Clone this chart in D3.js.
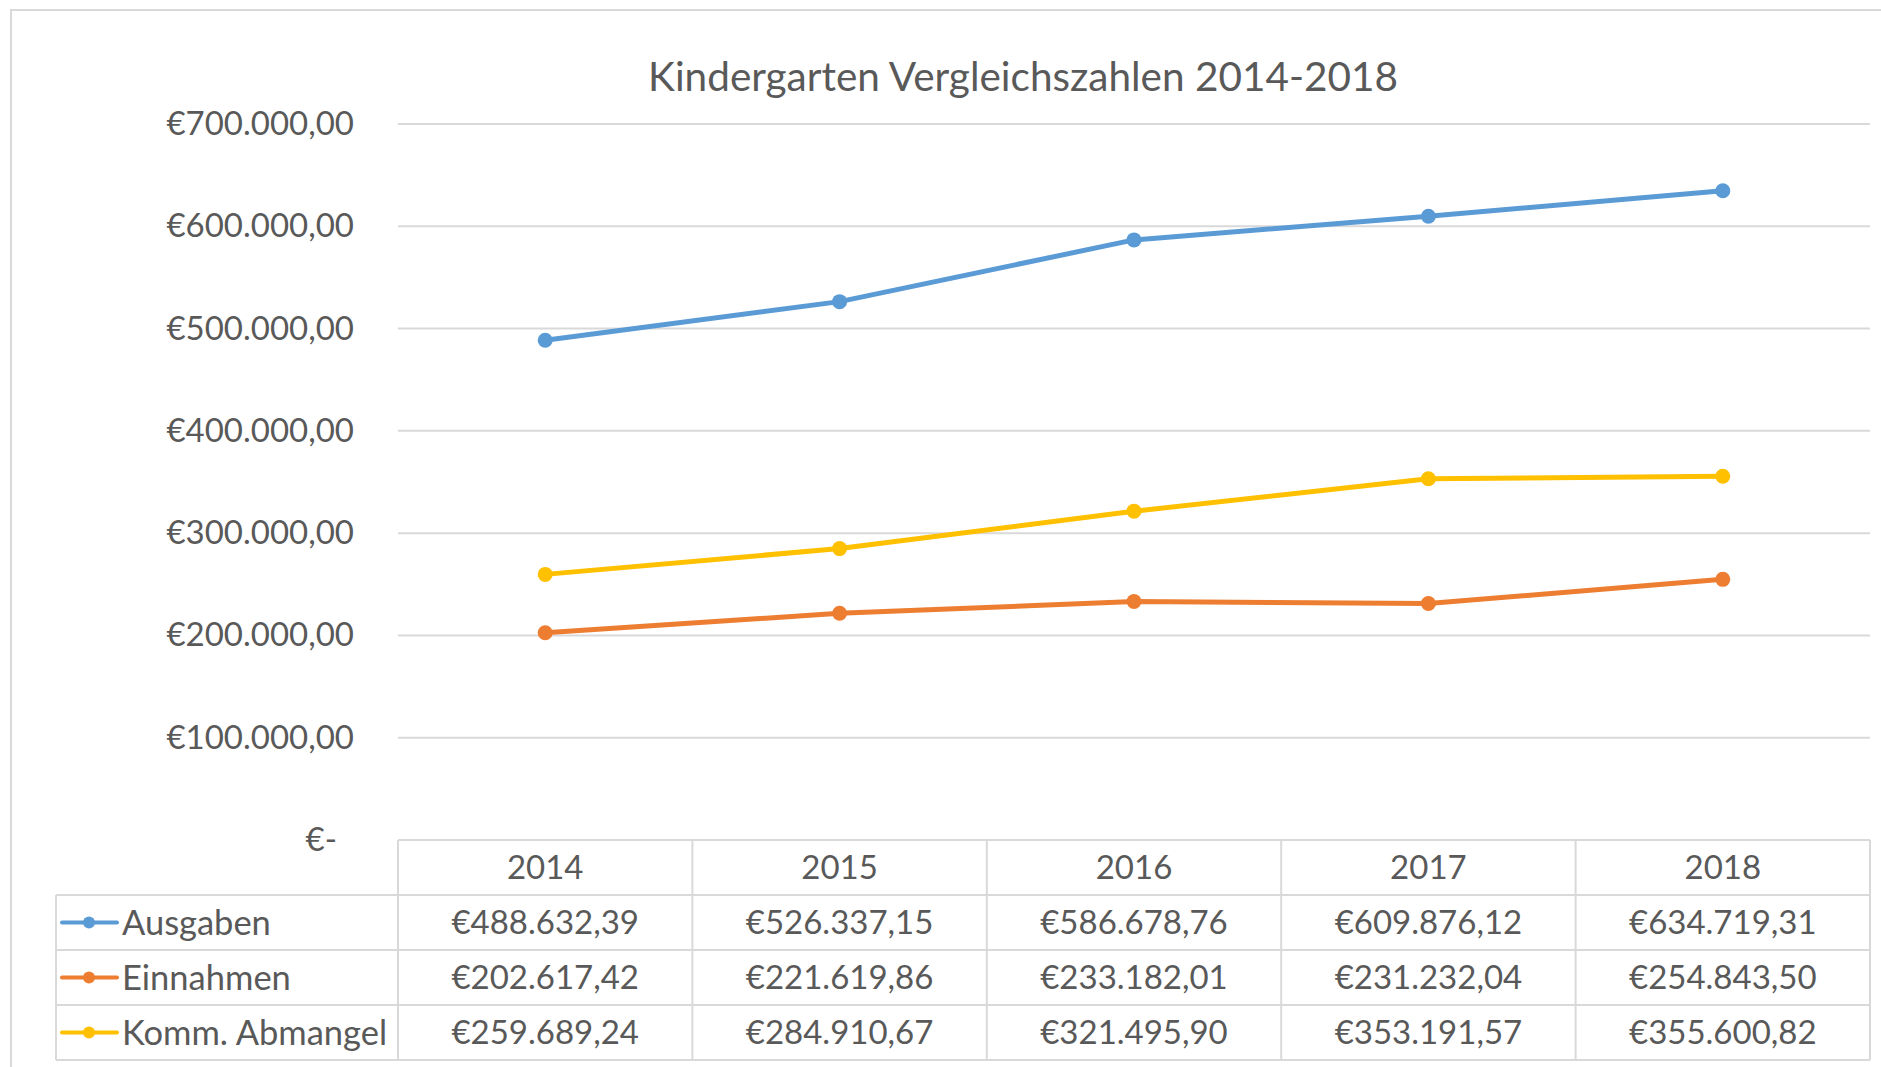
<!DOCTYPE html>
<html>
<head>
<meta charset="utf-8">
<script src="https://cdn.jsdelivr.net/npm/d3@7"></script>
<style>
  body { margin: 0; background: #fff; }
  text { font-family: Lato, "Open Sans", sans-serif; fill: #595959; }
</style>
</head>
<body>
<div id="chart"></div>
<script>
// chart data, read from the Excel sheet
const years = ["2014", "2015", "2016", "2017", "2018"];
const seriesNames = ["Ausgaben", "Einnahmen", "Komm. Abmangel"];
const ausgaben = [488632.39, 526337.15, 586678.76, 609876.12, 634719.31];
const einnahmen = [202617.42, 221619.86, 233182.01, 231232.04, 254843.50];
const abmangel = [259689.24, 284910.67, 321495.90, 353191.57, 355600.82];
const yTicks = [0, 100000, 200000, 300000, 400000, 500000, 600000, 700000];
const seriesColors = ["#5b9bd5", "#ed7d31", "#ffc000"];

const series = [ausgaben, einnahmen, abmangel].map((values, i) => ({
    name: seriesNames[i],
    color: seriesColors[i],
    values: values
}));

const width = 1881, height = 1067;
const plot = { left: 398, right: 1870, top: 124, bottom: 840 };
const rowH = 55;
const legendLeft = 56;
const fontSize = "33px";

// German currency format: €488.632,39
const de = d3.formatLocale({ decimal: ",", thousands: ".", grouping: [3], currency: ["€", ""] });
const euro = de.format("$,.2f");

const svg = d3.select("#chart").append("svg")
    .attr("width", width)
    .attr("height", height);

svg.append("rect").attr("width", width).attr("height", height).attr("fill", "#fff");

// outer chart frame
svg.append("rect")
    .attr("x", 11).attr("y", 10)
    .attr("width", width + 20).attr("height", height + 20)
    .attr("fill", "none")
    .attr("stroke", "#d9d9d9")
    .attr("stroke-width", 2);

const x = d3.scaleBand().domain(years).range([plot.left, plot.right]);
const y = d3.scaleLinear().domain([0, 700000]).range([plot.bottom, plot.top]);

// title
svg.append("text")
    .attr("x", 1023).attr("y", 91)
    .attr("text-anchor", "middle")
    .style("font-size", "40.5px")
    .text("Kindergarten Vergleichszahlen 2014-2018");

// gridlines
svg.append("g")
    .selectAll("line")
    .data(yTicks.filter(d => d > 0))
    .join("line")
    .attr("x1", plot.left).attr("x2", plot.right)
    .attr("y1", d => y(d)).attr("y2", d => y(d))
    .attr("stroke", "#d9d9d9")
    .attr("stroke-width", 2);

// y axis labels
const yAxis = d3.axisLeft(y)
    .tickValues(yTicks)
    .tickSize(0)
    .tickPadding(44)
    .tickFormat(d => d === 0 ? "€-" : euro(d));

const yg = svg.append("g")
    .attr("transform", `translate(${plot.left},0)`)
    .call(yAxis);
yg.select(".domain").remove();
yg.selectAll("text")
    .attr("fill", "#595959")
    .style("font-size", fontSize)
    .style("font-family", "Lato, sans-serif")
    .attr("dx", d => d === 0 ? -17 : 0)
    .attr("dy", "0.32em");

// lines + markers
const line = d3.line()
    .x((d, i) => x(years[i]) + x.bandwidth() / 2)
    .y(d => y(d));

const sg = svg.append("g")
    .selectAll("g")
    .data(series)
    .join("g");

sg.append("path")
    .attr("d", d => line(d.values))
    .attr("fill", "none")
    .attr("stroke", d => d.color)
    .attr("stroke-width", 5)
    .attr("stroke-linejoin", "round");

sg.selectAll("circle")
    .data(d => d.values.map(v => ({ v, color: d.color })))
    .join("circle")
    .attr("cx", (d, i) => x(years[i]) + x.bandwidth() / 2)
    .attr("cy", d => y(d.v))
    .attr("r", 7.5)
    .attr("fill", d => d.color);

// data table
const table = svg.append("g");
const gridColor = "#d9d9d9";
const tableBottom = plot.bottom + rowH * (series.length + 1);

// horizontal lines
table.append("line")
    .attr("x1", plot.left).attr("x2", plot.right)
    .attr("y1", plot.bottom).attr("y2", plot.bottom)
    .attr("stroke", gridColor).attr("stroke-width", 2);
table.selectAll(".hrow")
    .data(d3.range(1, series.length + 2))
    .join("line")
    .attr("x1", legendLeft).attr("x2", plot.right)
    .attr("y1", d => plot.bottom + d * rowH).attr("y2", d => plot.bottom + d * rowH)
    .attr("stroke", gridColor).attr("stroke-width", 2);

// vertical lines
table.selectAll(".vcol")
    .data(years.map(yr => x(yr)).concat([plot.right]))
    .join("line")
    .attr("x1", d => d).attr("x2", d => d)
    .attr("y1", plot.bottom).attr("y2", tableBottom)
    .attr("stroke", gridColor).attr("stroke-width", 2);
table.append("line")
    .attr("x1", legendLeft).attr("x2", legendLeft)
    .attr("y1", plot.bottom + rowH).attr("y2", tableBottom)
    .attr("stroke", gridColor).attr("stroke-width", 2);

// header years
table.selectAll(".year")
    .data(years)
    .join("text")
    .attr("x", d => x(d) + x.bandwidth() / 2)
    .attr("y", plot.bottom + rowH / 2)
    .attr("dy", "0.35em")
    .attr("text-anchor", "middle")
    .style("font-size", fontSize)
    .text(d => d);

// rows
const rows = table.selectAll(".row")
    .data(series)
    .join("g")
    .attr("transform", (d, i) => `translate(0,${plot.bottom + rowH * (i + 1) + rowH / 2})`);

rows.append("line")
    .attr("x1", 62).attr("x2", 117)
    .attr("stroke", d => d.color)
    .attr("stroke-width", 4)
    .attr("stroke-linecap", "round");
rows.append("circle")
    .attr("cx", 89).attr("r", 6)
    .attr("fill", d => d.color);
rows.append("text")
    .attr("x", 122)
    .attr("dy", "0.35em")
    .style("font-size", "34.5px")
    .text(d => d.name);

rows.selectAll(".val")
    .data(d => d.values)
    .join("text")
    .attr("x", (d, i) => x(years[i]) + x.bandwidth() / 2)
    .attr("dy", "0.35em")
    .attr("text-anchor", "middle")
    .style("font-size", fontSize)
    .text(d => euro(d));
</script>
</body>
</html>
